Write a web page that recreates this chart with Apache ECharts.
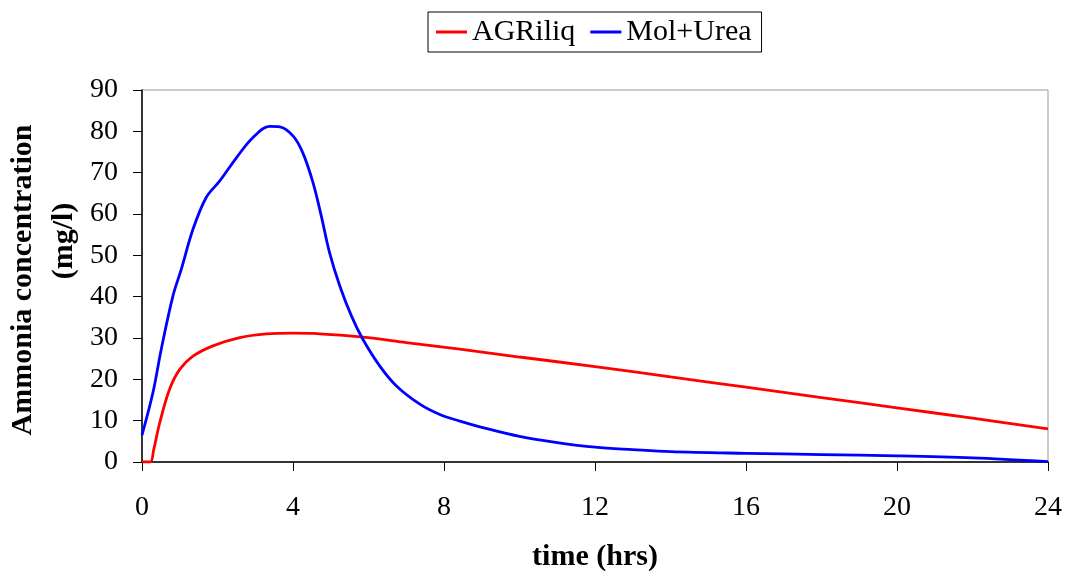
<!DOCTYPE html>
<html><head><meta charset="utf-8">
<script src="https://cdn.jsdelivr.net/npm/echarts@6/dist/echarts.min.js"></script>
<style>html,body{margin:0;padding:0;background:#fff}#c{width:1066px;height:571px}</style>
</head><body><div id="c"></div>
<script>
const seriesNames = ['AGRiliq', 'Mol+Urea'];
const agrTime = [0, 0.22, 0.31, 0.47, 0.73, 1.0, 1.35, 1.88, 2.59, 3.3, 4.0, 4.53, 5.85, 7.0, 8.42, 10, 12, 14, 16, 18, 20, 22, 24];
const agrValues = [0, 0, 3.0, 9.5, 17.6, 22.4, 25.6, 28.1, 30.1, 31.0, 31.2, 31.1, 30.2, 28.9, 27.3, 25.4, 23.1, 20.6, 18.1, 15.6, 13.1, 10.6, 8.0];
const molTime = [0, 0.29, 0.51, 0.82, 1.04, 1.35, 1.7, 2.06, 2.5, 2.94, 3.38, 3.65, 4.0, 4.26, 4.53, 4.75, 4.97, 5.24, 5.55, 5.85, 6.3, 6.74, 7.36, 7.89, 8.42, 9, 10, 11, 12, 13, 14, 16, 18, 20, 22, 24];
const molValues = [6.5, 16.8, 27.3, 40.2, 46.6, 56.3, 64.0, 68.0, 73.6, 78.5, 81.2, 81.1, 78.9, 74.8, 67.6, 59.5, 50.6, 42.6, 35.3, 29.7, 23.2, 18.4, 14.0, 11.5, 9.9, 8.4, 6.2, 4.7, 3.6, 3.0, 2.5, 2.1, 1.8, 1.5, 1.0, 0.1];
const xTicks = {min: 0, max: 24, interval: 4};
const yTicks = {min: 0, max: 90, interval: 10};
const xName = 'time (hrs)';
const yNameLines = ['Ammonia concentration', '(mg/l)'];

const font = '"Liberation Serif", "Times New Roman", serif';
const chart = echarts.init(document.getElementById('c'));
chart.setOption({
  animation: false,
  textStyle: {fontFamily: font},
  legend: {
    top: 12, left: 428,
    data: seriesNames,
    icon: 'rect', itemWidth: 31, itemHeight: 3, itemGap: 15,
    borderColor: '#000', borderWidth: 1, padding: [5, 10, 5, 8],
    textStyle: {fontFamily: font, fontSize: 30, color: '#000'}
  },
  graphic: [
    {type: 'text', x: 23, y: 280, rotation: Math.PI / 2,
     style: {text: yNameLines[0], font: 'bold 30px ' + font, fill: '#000', align: 'center', verticalAlign: 'middle'}},
    {type: 'text', x: 64, y: 241, rotation: Math.PI / 2,
     style: {text: yNameLines[1], font: 'bold 30px ' + font, fill: '#000', align: 'center', verticalAlign: 'middle'}}
  ],
  grid: {left: 142, top: 90, width: 906, height: 372, show: true, borderColor: '#999', borderWidth: 1, outerBoundsMode: 'none', containLabel: false},
  xAxis: {
    type: 'value', min: xTicks.min, max: xTicks.max, interval: xTicks.interval,
    name: xName, nameLocation: 'middle', nameGap: 80,
    nameTextStyle: {fontFamily: font, fontSize: 30, fontWeight: 'bold', color: '#000'},
    axisLine: {lineStyle: {color: '#000', width: 1.5}},
    axisTick: {show: true, length: 9, lineStyle: {color: '#000'}},
    axisLabel: {fontFamily: font, fontSize: 28, color: '#000', margin: 32},
    splitLine: {show: false}
  },
  yAxis: {
    type: 'value', min: yTicks.min, max: yTicks.max, interval: yTicks.interval,
    axisLine: {show: true, lineStyle: {color: '#000', width: 1.5}},
    axisTick: {show: true, length: 9, lineStyle: {color: '#000'}},
    axisLabel: {fontFamily: font, fontSize: 28, color: '#000', margin: 24},
    splitLine: {show: false}
  },
  series: [
    {name: seriesNames[0], type: 'line', data: agrTime.map((t, i) => [t, agrValues[i]]),
     smooth: 0.35, showSymbol: false, symbol: 'none', lineStyle: {color: '#ff0000', width: 2.8}, itemStyle: {color: '#ff0000'}},
    {name: seriesNames[1], type: 'line', data: molTime.map((t, i) => [t, molValues[i]]),
     smooth: 0.35, showSymbol: false, symbol: 'none', lineStyle: {color: '#0000ff', width: 2.8}, itemStyle: {color: '#0000ff'}}
  ]
});
</script></body></html>
